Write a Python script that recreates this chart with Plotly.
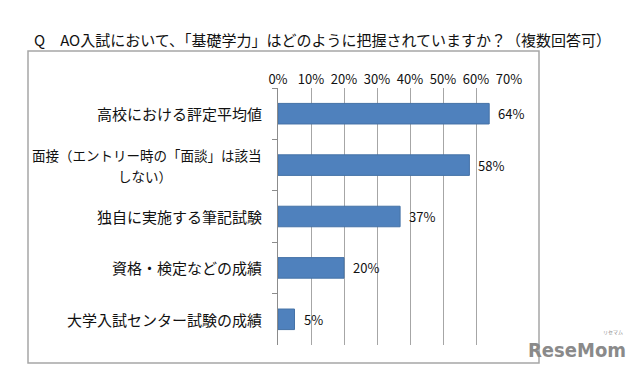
import plotly.graph_objects as go

# ---- data ----
categories = [
    "高校における評定平均値",
    "面接（エントリー時の「面談」は該当<br>しない）",
    "独自に実施する筆記試験",
    "資格・検定などの成績",
    "大学入試センター試験の成績",
]
values = [64, 58, 37, 20, 5]
value_labels = ["64%", "58%", "37%", "20%", "5%"]
tick_vals = [0, 10, 20, 30, 40, 50, 60, 70]
tick_text = ["0%", "10%", "20%", "30%", "40%", "50%", "60%", "70%"]
title_text = "Q　AO入試において、「基礎学力」はどのように把握されていますか？（複数回答可）"

W, H = 640, 374
L, R, T, B = 278, 640 - 509, 88, 374 - 345
pw, ph = W - L - R, H - T - B

def px(x):
    return (x - L) / pw

def py(y):
    return (H - B - y) / ph

JP = "Noto Sans CJK JP"
TXT = "#111111"

fig = go.Figure()
fig.add_trace(go.Bar(
    x=values, y=categories, orientation="h",
    marker=dict(color="#4F81BD", line=dict(color="#4572A7", width=1)),
    hoverinfo="skip", showlegend=False,
))

annotations = []
for c in categories:
    lines = c.split("<br>")
    size = 13.5 if len(lines) > 1 else 15
    n = len(lines)
    for i, line in enumerate(lines):
        shift = ((n - 1) / 2 - i) * 21
        annotations.append(dict(
            x=px(263) if i == 0 else px(263 - 90), xref="paper", y=c, yref="y",
            yshift=shift, text=line, showarrow=False, borderpad=0,
            xanchor="right", font=dict(family=JP, size=size, color=TXT),
        ))
for v, t, c in zip(values, value_labels, categories):
    annotations.append(dict(
        x=v, xref="x", y=c, yref="y", text=t, showarrow=False,
        xanchor="left", xshift=7, font=dict(family=JP, size=13, color=TXT),
    ))
annotations.append(dict(
    x=px(32), xref="paper", y=py(39), yref="paper", text=title_text, showarrow=False,
    xanchor="left", yanchor="middle", font=dict(family=JP, size=15, color=TXT),
))
annotations.append(dict(
    x=px(628), xref="paper", y=py(350), yref="paper", text="<b>ReseMom</b>", showarrow=False,
    xanchor="right", yanchor="middle",
    font=dict(family="DejaVu Sans Condensed, DejaVu Sans", size=20, color="#8a8a8a"),
))
annotations.append(dict(
    x=px(613), xref="paper", y=py(332), yref="paper", text="リセマム", showarrow=False,
    xanchor="center", yanchor="middle", borderpad=0,
    font=dict(family=JP, size=5, color="#8a8a8a"),
))

fig.update_layout(
    width=W, height=H,
    margin=dict(l=L, r=R, t=T, b=B, pad=0),
    paper_bgcolor="white", plot_bgcolor="white",
    bargap=0.6,
    annotations=annotations,
    shapes=[dict(
        type="rect", xref="paper", yref="paper",
        x0=px(28), x1=px(539), y0=py(363), y1=py(51),
        line=dict(color="#a6a6a6", width=1.5), fillcolor="rgba(0,0,0,0)", layer="below",
    )],
    xaxis=dict(
        side="top", range=[0, 70], tickvals=tick_vals, ticktext=tick_text,
        showgrid=True, gridcolor="#a6a6a6", gridwidth=1,
        zeroline=False, showline=False, ticks="",
        tickfont=dict(family=JP, size=13, color=TXT),
        fixedrange=True,
    ),
    yaxis=dict(
        autorange="reversed", showticklabels=False, showgrid=False,
        showline=True, linecolor="#8c8c8c", linewidth=1,
        ticks="outside", ticklen=5, tickcolor="#8c8c8c", tickson="boundaries",
        fixedrange=True,
    ),
)

fig.write_html("out.html", post_script="document.body.style.margin='0';",
               config={"displayModeBar": False})
